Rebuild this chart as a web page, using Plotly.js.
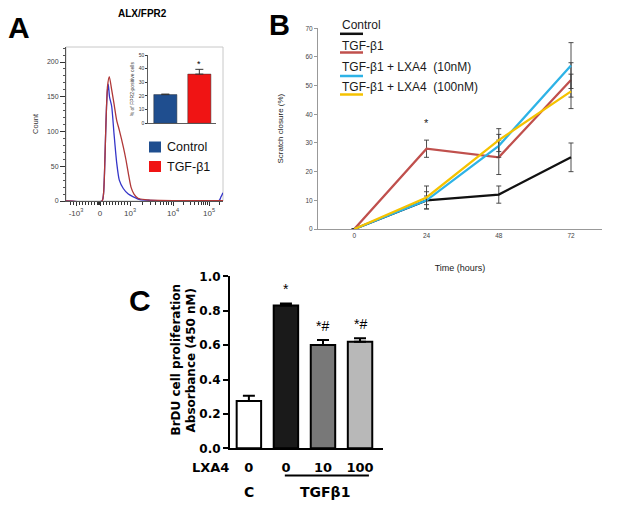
<!DOCTYPE html>
<html><head><meta charset="utf-8">
<script src="https://cdn.plot.ly/plotly-3.0.1.min.js"></script>
<style>html,body{margin:0;padding:0;background:#fff}</style>
</head><body><div id="chart" style="width:621px;height:509px"></div>
<script>
// ---------- Panel A: ALX/FPR2 flow histogram (x in logicle display units) ----------
const histXControl = [-3.4, 0.2, 0.35, 0.45, 0.55, 0.65, 0.75, 0.83, 0.95, 1.17, 1.4, 1.67, 1.93, 2.33, 2.83, 3.33, 4.0, 5.0, 7.0, 11.9, 12.1, 12.3];
const histYControl = [0, 0, 10, 40, 90, 135, 160, 168, 150, 136, 97, 55, 30, 18, 10, 6, 2, 1, 0.5, 0.5, 6, 12];
const histXTGF = [-3.4, 0.2, 0.35, 0.45, 0.55, 0.65, 0.75, 0.93, 1.17, 1.4, 1.67, 1.93, 2.33, 2.6, 2.83, 3.1, 3.4, 3.8, 4.5, 6.0, 12.3];
const histYTGF = [0, 0, 10, 40, 90, 135, 165, 179, 160, 140, 116, 102, 78, 59, 40, 20, 10, 4, 2, 1, 0.5];
const histTickVals = [-2.4, 0, 3.0, 7.3, 10.9];
const histTickText = ['-10<sup>3</sup>', '0', '10<sup>3</sup>', '10<sup>4</sup>', '10<sup>5</sup>'];
const countTicks = [0, 50, 100, 150, 200];

// inset: % of FPR2-positive cells
const insetGroups = ['Control', 'TGF-β1'];
const insetValues = [21, 36];
const insetErrors = [0.4, 3.5];
const insetColors = ['#1f4e8f', '#f01414'];

// ---------- Panel B: scratch closure ----------
const timeHours = [0, 24, 48, 72];
const seriesNames = ['Control', 'TGF-β1', 'TGF-β1 + LXA4  (10nM)', 'TGF-β1 + LXA4  (100nM)'];
const closureControl = [0, 10, 12, 25];
const errControl = [0, 1.5, 3, 5];
const closureTGF = [0, 28, 25, 52];
const errTGF = [0, 3, 6, 6];
const closureLXA10 = [0, 10, 29, 57];
const errLXA10 = [0, 3, 4, 8];
const closureLXA100 = [0, 11, 31, 48];
const errLXA100 = [0, 4, 4, 6];
const seriesColors = ['#111111', '#c0504d', '#2eb3e6', '#f5c200'];

// ---------- Panel C: BrDU proliferation ----------
const brduLXA4 = ['0', '0', '10', '100'];
const brduValues = [0.275, 0.83, 0.60, 0.62];
const brduErrors = [0.03, 0.012, 0.03, 0.02];
const brduColors = ['#ffffff', '#1a1a1a', '#787878', '#b8b8b8'];
const brduMarks = ['', '*', '*#', '*#'];

const W = 621, H = 509;
const px = v => v / W;
const py = v => 1 - v / H;
const FONT = 'Liberation Sans, Arial, sans-serif';
const BOLD_C = 'DejaVu Sans, sans-serif';

// minor tick positions of the logicle axis
const minorVals = [];
for (let v = -3.0; v < -0.3; v += 0.3) minorVals.push(+v.toFixed(2));
for (let v = -0.25; v < 0; v += 0.06) minorVals.push(+v.toFixed(2));
for (let v = 0.3; v < 2.9; v += 0.3) minorVals.push(+v.toFixed(2));
for (let k = 2; k < 10; k++) { minorVals.push(3.0 + 4.3 * Math.log10(k)); minorVals.push(7.3 + 3.6 * Math.log10(k)); }
minorVals.push(10.9 + 3.6 * Math.log10(2));

const traces = [];
traces.push({x: histXControl, y: histYControl, xaxis: 'x', yaxis: 'y', type: 'scatter', mode: 'lines',
  line: {color: '#3535c8', width: 1.3, shape: 'spline', smoothing: 0.6}, hoverinfo: 'skip'});
traces.push({x: histXTGF, y: histYTGF, xaxis: 'x', yaxis: 'y', type: 'scatter', mode: 'lines',
  line: {color: '#b03838', width: 1.3, shape: 'spline', smoothing: 0.6}, hoverinfo: 'skip'});
traces.push({x: [0, 1], y: insetValues, xaxis: 'x2', yaxis: 'y2', type: 'bar', width: 0.68,
  marker: {color: insetColors, line: {color: '#333', width: 0.5}},
  error_y: {type: 'data', symmetric: false, array: insetErrors, arrayminus: [0, 0], color: '#333', thickness: 1, width: 4},
  text: insetGroups, hoverinfo: 'text', textposition: 'none'});

const bSeries = [[closureControl, errControl], [closureTGF, errTGF], [closureLXA10, errLXA10], [closureLXA100, errLXA100]];
bSeries.forEach((s, i) => {
  traces.push({x: timeHours, y: s[0], xaxis: 'x3', yaxis: 'y3', type: 'scatter', mode: 'lines', name: seriesNames[i],
    line: {color: seriesColors[i], width: 2.3},
    error_y: {type: 'data', array: s[1], color: '#3a3a3a', thickness: 0.9, width: 2.5}});
});

traces.push({x: [0, 1, 2, 3], y: brduValues, xaxis: 'x4', yaxis: 'y4', type: 'bar', width: 0.66,
  marker: {color: brduColors, line: {color: '#000', width: 2}},
  error_y: {type: 'data', symmetric: false, array: brduErrors, arrayminus: [0, 0, 0, 0], color: '#000', thickness: 2, width: 6}});

const annotations = [];
const shapes = [];
const ann = (text, x, y, size, opts = {}) => annotations.push(Object.assign({
  text, x: px(x), y: py(y), xref: 'paper', yref: 'paper', showarrow: false,
  xanchor: 'center', yanchor: 'middle', font: {family: FONT, size, color: '#000'}}, opts));

// panel letters and titles
ann('<b>A</b>', 19, 27, 30);
ann('<b>ALX/FPR2</b>', 142, 13.5, 10);
ann('<b>B</b>', 279, 25, 29);
ann('<b>C</b>', 140, 300, 30);

// A: frame + inset legend
shapes.push({type: 'rect', xref: 'paper', yref: 'paper', x0: px(66), x1: px(223), y0: py(201), y1: py(47), line: {color: '#c8c8c8', width: 1}, layer: 'below'});
insetGroups.forEach((g, i) => {
  const yc = [147, 166.5][i];
  shapes.push({type: 'rect', xref: 'paper', yref: 'paper', x0: px(149), x1: px(161), y0: py(yc - 5.5), y1: py(yc + 5.5), fillcolor: insetColors[i], line: {width: 0}});
  ann(g, 165, yc, 12.5, {xanchor: 'left', font: {family: FONT, size: 12.5, color: '#111'}});
});
annotations.push({text: '*', x: 1, y: insetValues[1] + insetErrors[1], xref: 'x2', yref: 'y2', yanchor: 'bottom', showarrow: false, yshift: -2, font: {family: FONT, size: 9, color: '#000'}});

// B legend
const bLegendText = [25, 46, 67, 86.5];
const bLegendLine = [33.8, 52.5, 76, 94.5];
seriesNames.forEach((n, i) => {
  ann(n, 340, bLegendText[i], 12, {xanchor: 'left', font: {family: FONT, size: 12, color: '#1a1a1a'}});
  shapes.push({type: 'line', xref: 'paper', yref: 'paper', x0: px(340), x1: px(363), y0: py(bLegendLine[i]), y1: py(bLegendLine[i]), line: {color: seriesColors[i], width: 2.5}});
});
annotations.push({text: '*', x: timeHours[1], y: closureTGF[1] + errTGF[1], xref: 'x3', yref: 'y3', yanchor: 'bottom', yshift: 9, showarrow: false, font: {family: FONT, size: 11, color: '#222'}});

// C annotations
ann('<b>BrDU cell proliferation</b>', 175.5, 360, 12, {textangle: -90, font: {family: BOLD_C, size: 12, color: '#000'}});
ann('<b>Absorbance (450 nM)</b>', 190.5, 360, 12, {textangle: -90, font: {family: BOLD_C, size: 12, color: '#000'}});
ann('<b>LXA4</b>', 210, 467, 13, {font: {family: BOLD_C, size: 13, color: '#000'}});
annotations.push({text: '<b>C</b>', x: 0, y: py(492), xref: 'x4', yref: 'paper', yanchor: 'middle', showarrow: false, font: {family: BOLD_C, size: 14, color: '#000'}});
annotations.push({text: '<b>TGFβ1</b>', x: 2.05, y: py(492), xref: 'x4', yref: 'paper', yanchor: 'middle', showarrow: false, font: {family: BOLD_C, size: 14, color: '#000'}});
shapes.push({type: 'line', xref: 'x4', yref: 'paper', x0: 0.97, x1: 3.24, y0: py(475.5), y1: py(475.5), line: {color: '#000', width: 2}});
brduMarks.forEach((m, i) => {
  if (!m) return;
  annotations.push({text: m, x: i, y: brduValues[i] + brduErrors[i], xref: 'x4', yref: 'y4', yanchor: 'bottom', yshift: 4, showarrow: false, font: {family: FONT, size: 14, color: '#000'}});
});

const layout = {
  width: W, height: H, margin: {l: 0, r: 0, t: 0, b: 0},
  paper_bgcolor: '#ffffff', plot_bgcolor: 'rgba(0,0,0,0)', showlegend: false,
  font: {family: FONT, color: '#333'},
  xaxis: {domain: [px(66), px(223)], range: [-3.4, 12.3], anchor: 'y', tickmode: 'array', tickvals: histTickVals, ticktext: histTickText,
    ticks: 'outside', ticklen: 4, tickcolor: '#333', showline: true, linecolor: '#555', linewidth: 1, showgrid: false, zeroline: false,
    tickfont: {size: 8, color: '#444'}, minor: {tickmode: 'array', tickvals: minorVals, ticks: 'outside', ticklen: 2.5, tickcolor: '#333', showgrid: false}},
  yaxis: {domain: [py(201), py(47)], range: [0, 221.6], anchor: 'x', tickmode: 'array', tickvals: countTicks,
    ticks: 'outside', ticklen: 5, tickcolor: '#333', showline: true, linecolor: '#555', linewidth: 1, showgrid: false, zeroline: false,
    tickfont: {size: 7, color: '#444'}, minor: {dtick: 10, ticks: 'outside', ticklen: 2.5, tickcolor: '#555', showgrid: false},
    title: {text: 'Count', font: {size: 7.5, color: '#333'}, standoff: 7}},
  xaxis2: {domain: [px(148), px(216)], range: [-0.51, 1.49], anchor: 'y2', showticklabels: false, ticks: '',
    showline: true, linecolor: '#333', linewidth: 0.8, showgrid: false, zeroline: false},
  yaxis2: {domain: [py(123.3), py(55)], range: [0, 50], anchor: 'x2', dtick: 10, ticks: 'outside', ticklen: 2, tickcolor: '#333',
    showline: true, linecolor: '#333', linewidth: 0.8, showgrid: false, zeroline: false, tickfont: {size: 5, color: '#333'},
    title: {text: '% of FPR2-positive cells', font: {size: 5, color: '#333'}, standoff: 3}},
  xaxis3: {domain: [px(318), px(602)], range: [-12.06, 82.3], anchor: 'y3', tickmode: 'array', tickvals: timeHours, ticks: '',
    showline: true, linecolor: '#999', linewidth: 1, showgrid: false, zeroline: false, tickfont: {size: 6.5, color: '#444'},
    title: {text: 'Time (hours)', font: {size: 9, color: '#222'}, standoff: 26}},
  yaxis3: {domain: [py(229), py(28.3)], range: [0, 70], anchor: 'x3', dtick: 10, ticks: 'outside', ticklen: 3, tickcolor: '#999',
    showline: true, linecolor: '#999', linewidth: 1, showgrid: false, zeroline: false, tickfont: {size: 6.5, color: '#444'},
    title: {text: 'Scratch closure (%)', font: {size: 8, color: '#222'}, standoff: 20}},
  xaxis4: {domain: [px(230), px(383)], range: [-0.51, 3.62], anchor: 'y4', tickmode: 'array', tickvals: [0, 1, 2, 3], ticktext: brduLXA4.map(t => '<b>' + t + '</b>'),
    ticks: '', showline: true, linecolor: '#000', linewidth: 2, showgrid: false, zeroline: false, ticklabelstandoff: 6,
    tickfont: {family: BOLD_C, size: 13, color: '#000'}},
  yaxis4: {domain: [py(448.3), py(276.3)], range: [0, 1], anchor: 'x4', dtick: 0.2, tickformat: '.1f', ticks: 'outside', ticklen: 5, tickwidth: 2, tickcolor: '#000',
    showline: true, linecolor: '#000', linewidth: 2, showgrid: false, zeroline: false, tickprefix: '<b>', ticksuffix: '</b>',
    tickfont: {family: BOLD_C, size: 12, color: '#000'}},
  annotations, shapes
};

Plotly.newPlot('chart', traces, layout, {staticPlot: true, displayModeBar: false});
</script>
</body></html>
